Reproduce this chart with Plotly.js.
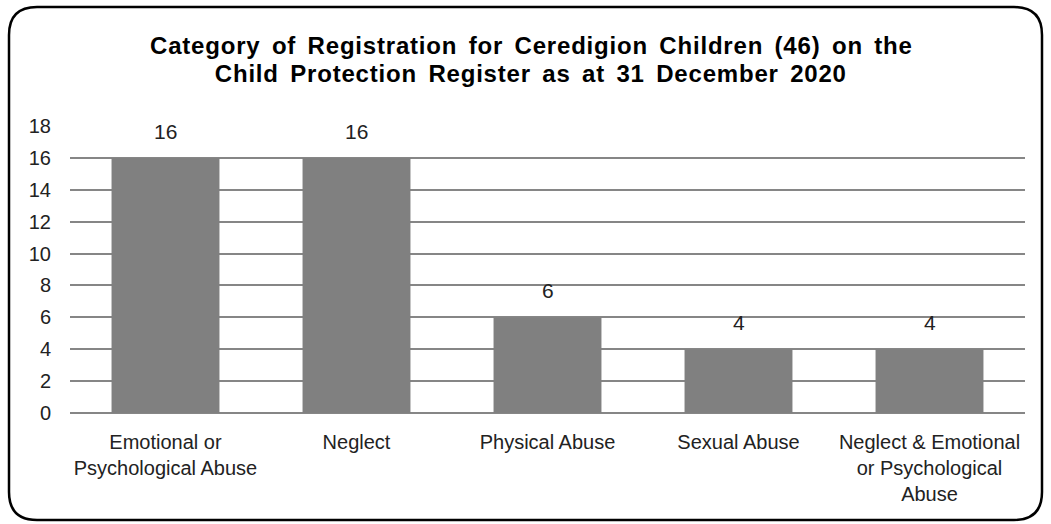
<!DOCTYPE html>
<html><head><meta charset="utf-8">
<script src="https://cdn.plot.ly/plotly-3.0.1.min.js"></script>
<style>html,body{margin:0;padding:0;background:#fff;}#chart{width:1051px;height:524px;}
.annotation-text.ttl{word-spacing:4px;letter-spacing:0.8px;}</style>
</head><body><div id="chart"></div>
<script>
const categories = ["Emotional or<br>Psychological Abuse", "Neglect", "Physical Abuse", "Sexual Abuse", "Neglect & Emotional<br>or Psychological<br>Abuse"];
const values = [16, 16, 6, 4, 4];
const yTicks = [0, 2, 4, 6, 8, 10, 12, 14, 16, 18];
const titleLines = ["Category of Registration for Ceredigion Children (46) on the", "Child Protection Register as at 31 December 2020"];

const font = "'Liberation Sans', Arial, sans-serif";
const trace = {
  type: "bar", x: categories, y: values,
  marker: {color: "#808080"},
  hoverinfo: "none"
};
const W = 1051, H = 524, m = {l: 70, r: 26, t: 126, b: 111};
const ph = H - m.t - m.b, pw = W - m.l - m.r;
const annotations = [];
// data labels, anchored to the bar values
categories.forEach((c, i) => annotations.push({
  x: c, y: values[i], xref: "x", yref: "y", text: String(values[i]), showarrow: false,
  yanchor: "bottom", yshift: 13, font: {family: font, size: 21, color: "#222"}
}));
// two-line title
titleLines.forEach((t, i) => annotations.push({
  x: (531 - m.l) / pw, xref: "paper", yref: "paper", y: (H - m.b - [45, 74][i]) / ph, yanchor: "middle",
  text: t, showarrow: false, font: {family: font, size: 24, color: "#000", weight: "bold"}
}));
const layout = {
  width: W, height: H, margin: m,
  paper_bgcolor: "#fff", plot_bgcolor: "#fff",
  showlegend: false, bargap: 0.435,
  annotations: annotations,
  xaxis: {tickfont: {family: font, size: 20, color: "#222"}, showline: false, ticks: "", automargin: false, ticklabelstandoff: 15},
  yaxis: {range: [0, 18], tickvals: yTicks, showgrid: true, gridcolor: "#868686", gridwidth: 2,
          zeroline: true, zerolinecolor: "#868686", zerolinewidth: 2, showline: false, ticks: "",
          ticklabelstandoff: 18, tickfont: {family: font, size: 20, color: "#222"}, automargin: false},
  shapes: []
};
(function(){
  const px = v => ((v - m.l) / pw).toFixed(5);
  const py = v => ((H - m.b - v) / ph).toFixed(5);
  const x0 = 9, x1 = 1042, y0 = 7, y1 = 520, r = 28;
  layout.shapes.push({type: "path", xref: "paper", yref: "paper", layer: "above", line: {color: "#000", width: 2.5},
    path: `M ${px(x0+r)},${py(y0)} L ${px(x1-r)},${py(y0)} Q ${px(x1)},${py(y0)} ${px(x1)},${py(y0+r)} L ${px(x1)},${py(y1-r)} Q ${px(x1)},${py(y1)} ${px(x1-r)},${py(y1)} L ${px(x0+r)},${py(y1)} Q ${px(x0)},${py(y1)} ${px(x0)},${py(y1-r)} L ${px(x0)},${py(y0+r)} Q ${px(x0)},${py(y0)} ${px(x0+r)},${py(y0)} Z`});
})();
Plotly.newPlot("chart", [trace], layout, {displayModeBar: false, staticPlot: true}).then(() => {
  document.querySelectorAll(".annotation-text").forEach(el => {
    if (titleLines.includes(el.textContent)) el.classList.add("ttl");
  });
});
</script></body></html>
